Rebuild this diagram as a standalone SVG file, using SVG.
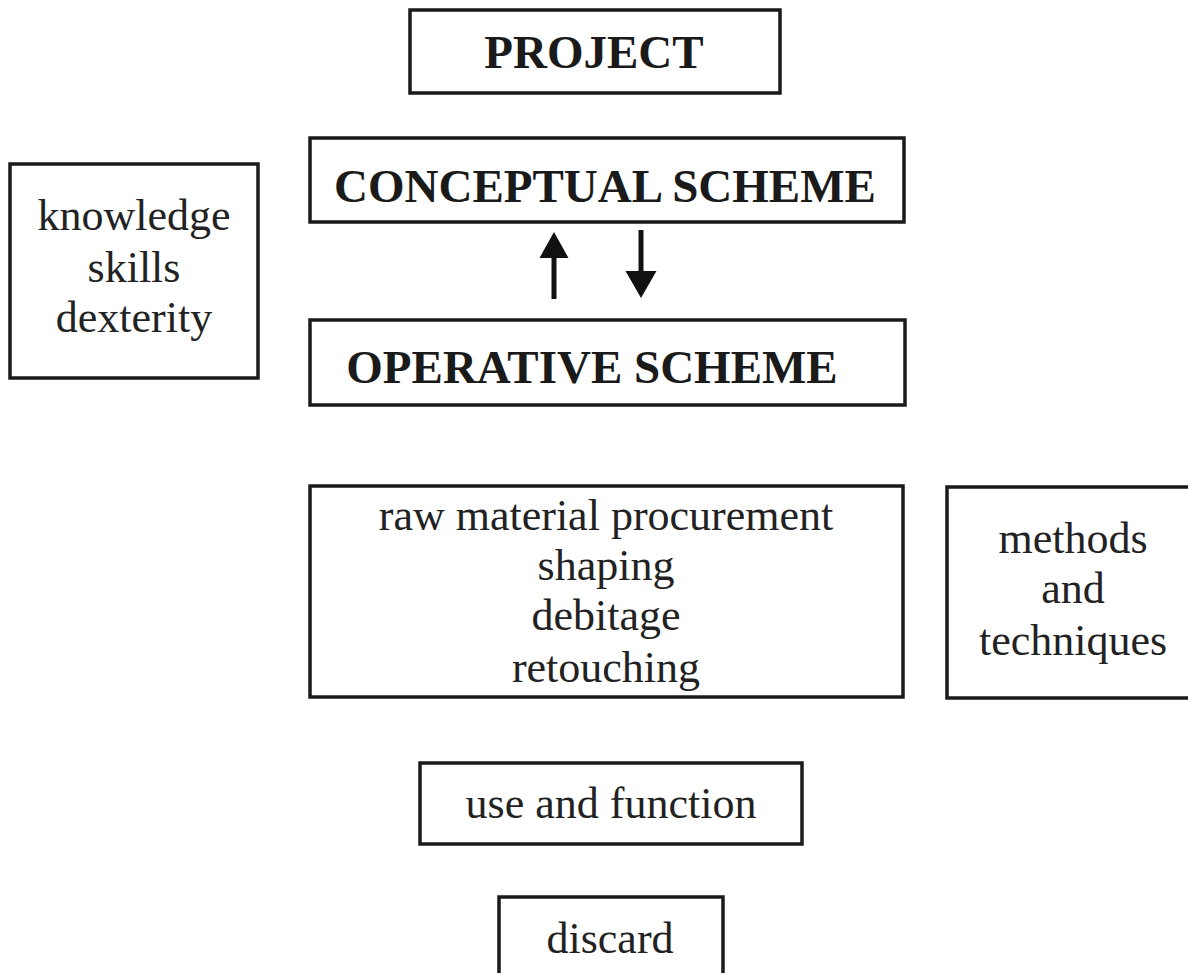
<svg xmlns="http://www.w3.org/2000/svg" width="1188" height="973" viewBox="0 0 1188 973">
<style>
.box{fill:#fff;stroke:#1a1a1a;stroke-width:3.5}
.bt{font-family:"Liberation Serif","Times New Roman",serif;font-weight:bold;font-size:47px;fill:#1a1a1a}
.t{font-family:"Liberation Serif","Times New Roman",serif;font-size:44px;fill:#222;text-anchor:middle}
.arr{stroke:#111;stroke-width:5}
.head{fill:#111}
</style>
<rect width="1188" height="973" fill="#fff"/>
<g id="project">
<rect class="box" x="410" y="10" width="370" height="83"/>
<text class="bt" x="594" y="68" text-anchor="middle">PROJECT</text>
</g>
<g id="conceptual">
<rect class="box" x="310" y="138" width="594" height="84"/>
<text class="bt" x="605" y="202" text-anchor="middle">CONCEPTUAL SCHEME</text>
</g>
<g id="operative">
<rect class="box" x="310" y="320" width="595" height="85"/>
<text class="bt" x="592" y="383" text-anchor="middle">OPERATIVE SCHEME</text>
</g>
<g id="knowledge">
<rect class="box" x="10" y="164" width="248" height="214"/>
<text class="t" x="134" y="230">knowledge</text>
<text class="t" x="134" y="282">skills</text>
<text class="t" x="134" y="332">dexterity</text>
</g>
<g id="stages">
<rect class="box" x="310" y="486" width="593" height="211"/>
<text class="t" x="606" y="530">raw material procurement</text>
<text class="t" x="606" y="580">shaping</text>
<text class="t" x="606" y="630">debitage</text>
<text class="t" x="606" y="682">retouching</text>
</g>
<g id="methods">
<rect class="box" x="947" y="487" width="250" height="211"/>
<text class="t" x="1073" y="553">methods</text>
<text class="t" x="1073" y="603">and</text>
<text class="t" x="1073" y="655">techniques</text>
</g>
<g id="use">
<rect class="box" x="420" y="763" width="382" height="81"/>
<text class="t" x="611" y="818">use and function</text>
</g>
<g id="discard">
<rect class="box" x="499" y="897" width="224" height="90"/>
<text class="t" x="610" y="953">discard</text>
</g>
<g id="connectors">
<line class="arr" x1="554" y1="299" x2="554" y2="254"/>
<polygon class="head" points="554,232 539.5,258 568.5,258"/>
<line class="arr" x1="641" y1="230" x2="641" y2="274"/>
<polygon class="head" points="641,298 625.5,271 656.5,271"/>
</g>
</svg>
